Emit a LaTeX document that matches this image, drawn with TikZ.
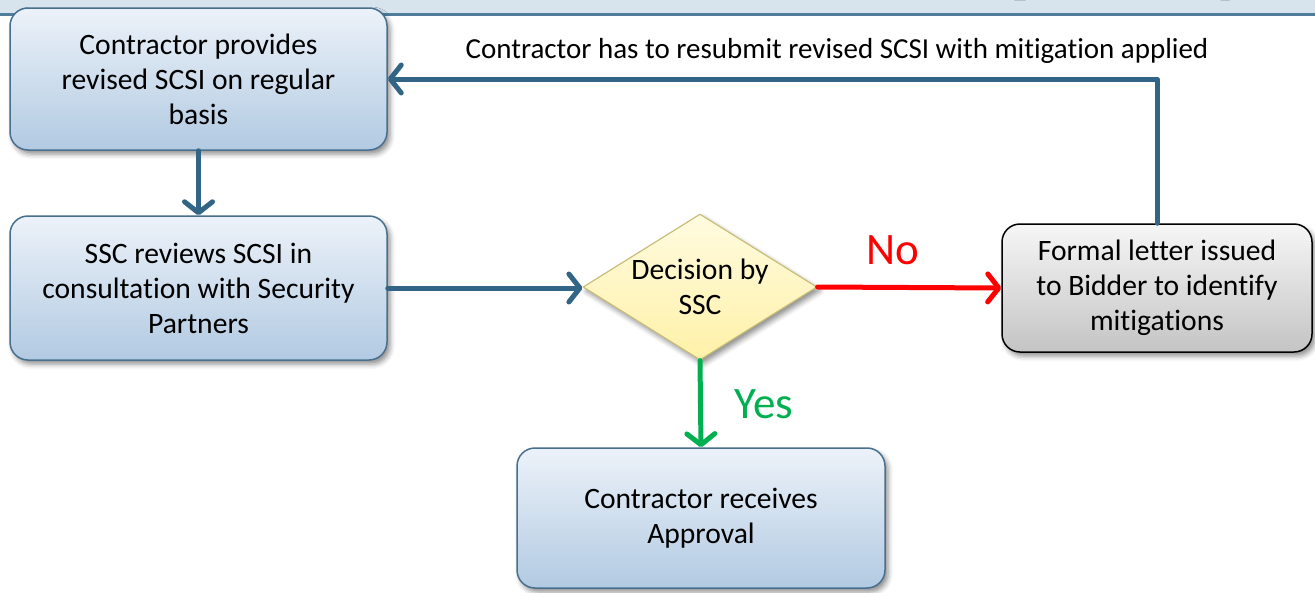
\documentclass[tikz,border=0pt]{standalone}
\usepackage{fontspec}
\setmainfont[Ligatures=NoCommon]{Carlito}
\usetikzlibrary{arrows.meta,shapes.geometric,shadows.blur}

\definecolor{arrowblue}{RGB}{50,101,133}
\definecolor{boxedge}{RGB}{72,112,142}
\definecolor{boxtop}{RGB}{236,242,249}
\definecolor{boxbot}{RGB}{178,202,226}
\definecolor{dtop}{RGB}{255,251,224}
\definecolor{dbot}{RGB}{255,241,168}
\definecolor{dedge}{RGB}{200,190,122}
\definecolor{gtop}{RGB}{246,246,246}
\definecolor{gbot}{RGB}{196,196,196}
\definecolor{bandfill}{RGB}{215,228,238}
\definecolor{bandline}{RGB}{80,125,155}
\definecolor{yesgreen}{RGB}{0,176,80}
\definecolor{nored}{RGB}{255,0,0}

\tikzset{
  soft/.style={blur shadow={shadow xshift=3pt, shadow yshift=-4pt,
      shadow blur radius=5pt, shadow opacity=45}},
  boxtext/.style={align=center, font=\fontsize{29.6}{35}\selectfont},
  stepbox/.style={rectangle, rounded corners=18pt, draw=boxedge, line width=1.5pt,
      top color=boxtop, bottom color=boxbot, minimum width=377pt,
      minimum height=142pt, boxtext, soft},
  greybox/.style={rectangle, rounded corners=18pt, draw=black, line width=1.5pt,
      top color=gtop, bottom color=gbot, minimum width=310pt,
      minimum height=128pt, boxtext, soft},
  decision/.style={diamond, aspect=1.6, inner sep=0pt, draw=dedge, line width=1.2pt,
      top color=dtop, bottom color=dbot, minimum width=234pt,
      minimum height=146pt, boxtext, soft},
  flow/.style={draw=arrowblue, line width=5pt, line cap=round, line join=round,
      -{Straight Barb[length=11pt, width=28pt, round]}},
  noflow/.style={flow, draw=nored},
  yesflow/.style={flow, draw=yesgreen},
  lbl/.style={font=\fontsize{45}{50}\selectfont}
}

\begin{document}
\begin{tikzpicture}[x=1pt, y=-1pt]
  \useasboundingbox (0,0) rectangle (1315,592);
  \clip (0,0) rectangle (1315,592);

  % heading band along the top edge
  \fill[bandfill] (0,-40) rectangle (1315,14);
  \node[anchor=base west, inner sep=0pt,
        font=\bfseries\fontsize{90}{90}\selectfont] (title) at (826,-14) {(Temporary)};
  \draw[bandline, line width=3pt] (0,14.5) -- (1315,14.5);

  % process steps
  \node[stepbox] (provide) at (198.5,79)
    {Contractor provides\\revised SCSI on regular\\basis};
  \node[stepbox, minimum height=144pt] (review) at (198.5,288)
    {SSC reviews SCSI in\\consultation with Security\\Partners};
  \node[decision] (decide) at (700,287) {Decision by\\SSC};
  \node[greybox] (letter) at (1157,288)
    {Formal letter issued\\to Bidder to identify\\mitigations};
  \node[stepbox, minimum width=368pt, minimum height=140pt] (approve) at (701,518)
    {Contractor receives\\Approval};

  % connectors
  \draw[flow] (provide) -- (review);
  \draw[flow] (review.east) -- (review.east -| decide.west);
  \draw[noflow] (decide.east) -- (letter.west);
  \draw[yesflow] (decide.south) -- (approve.north);
  \draw[flow] (letter.north) |- (provide.east);

  % labels
  \node[font=\fontsize{29}{35}\selectfont] (resubmit) at (837,51)
    {Contractor has to resubmit revised SCSI with mitigation applied};
  \node[lbl, text=nored] (nolabel) at (893,250) {No};
  \node[lbl, text=yesgreen] (yeslabel) at (764,404) {Yes};
\end{tikzpicture}
\end{document}
